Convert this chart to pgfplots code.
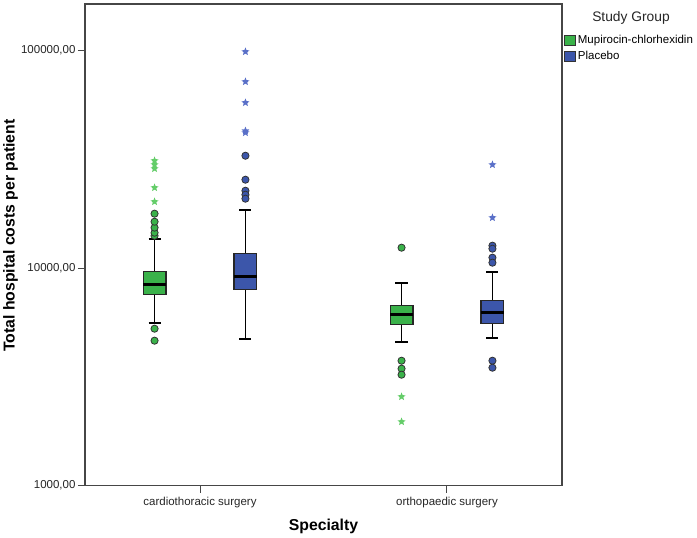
\documentclass[border=0pt]{standalone}
\usepackage{fontspec}
\setmainfont{Liberation Sans}
\usepackage{pgfplots}
\pgfplotsset{compat=1.18}
\definecolor{sgreen}{RGB}{58,178,74}
\definecolor{sblue}{RGB}{60,86,170}
\definecolor{lgreen}{RGB}{100,205,105}
\definecolor{lblue}{RGB}{90,112,200}
\definecolor{framec}{RGB}{70,70,70}
\pgfdeclareplotmark{fstar}{%
 \pgfpathmoveto{\pgfpointpolar{90}{\pgfplotmarksize}}%
 \pgfpathlineto{\pgfpointpolar{126}{0.45\pgfplotmarksize}}%
 \pgfpathlineto{\pgfpointpolar{162}{\pgfplotmarksize}}%
 \pgfpathlineto{\pgfpointpolar{198}{0.45\pgfplotmarksize}}%
 \pgfpathlineto{\pgfpointpolar{234}{\pgfplotmarksize}}%
 \pgfpathlineto{\pgfpointpolar{270}{0.45\pgfplotmarksize}}%
 \pgfpathlineto{\pgfpointpolar{306}{\pgfplotmarksize}}%
 \pgfpathlineto{\pgfpointpolar{342}{0.45\pgfplotmarksize}}%
 \pgfpathlineto{\pgfpointpolar{18}{\pgfplotmarksize}}%
 \pgfpathlineto{\pgfpointpolar{54}{0.45\pgfplotmarksize}}%
 \pgfpathclose\pgfusepathqfill}
\pgfplotsset{
  whisk/.style={black, line width=1.8pt, forget plot},
  bx/.style={fill=#1, draw=black!85, line width=1.1pt, line join=miter, forget plot},
  med/.style={black, line width=2.7pt, forget plot},
}
\begin{document}
\begin{tikzpicture}
\useasboundingbox (0,0) rectangle (697pt,538pt);
\begin{axis}[
  at={(85pt,52.3pt)}, anchor=south west,
  scale only axis, width=477pt, height=481.7pt,
  ymode=log, ymin=1000, ymax=163960,
  xmin=-0.4656, xmax=1.4656,
  axis line style={framec, line width=1.2pt},
  xtick={0,1}, xticklabels={cardiothoracic surgery, orthopaedic surgery},
  ytick={1000,10000,100000}, yticklabels={{1000,00},{10000,00},{100000,00}},
  yminorticks=false, xminorticks=false,
  xtick pos=bottom, ytick pos=left, tick align=outside,
  major tick length=7pt,
  tick style={framec, line width=1pt},
  ticklabel style={font=\fontsize{11.5}{13}\selectfont, text=black!85},
  xticklabel style={yshift=-1pt},
  yticklabel style={xshift=1pt},
  xlabel={Specialty}, ylabel={Total hospital costs per patient},
  every axis x label/.style={at={(axis description cs:0.5,-0.085)}, anchor=center,
    font=\fontsize{15.8}{18}\selectfont\bfseries},
  every axis y label/.style={at={(axis description cs:-0.156,0.519)}, anchor=center, rotate=90,
    font=\fontsize{15.8}{18}\selectfont\bfseries},
  legend style={at={(rel axis cs:1,1)}, anchor=north west, xshift=2pt, yshift=-29pt,
    draw=none, fill=none, inner sep=0pt, row sep=2.5pt,
    font=\fontsize{11.5}{12}\selectfont, cells={anchor=west},
    /tikz/every even column/.append style={column sep=1pt}},
  legend image code/.code={\draw[#1, draw=black!80, line width=0.7pt] (0pt,-5pt) rectangle (11pt,5pt);},
  clip=false,
]
\addlegendimage{fill=sgreen}
\addlegendentry{Mupirocin-chlorhexidin}
\addlegendimage{fill=sblue}
\addlegendentry{Placebo}
% ---- cardiothoracic, Mupirocin-chlorhexidin (x=-0.184)
\addplot[whisk] coordinates {(-0.184,5616) (-0.184,7553)};
\addplot[whisk] coordinates {(-0.184,9636) (-0.184,13665)};
\addplot[whisk] coordinates {(-0.2085,5616) (-0.1595,5616)};
\addplot[whisk] coordinates {(-0.2085,13665) (-0.1595,13665)};
\addplot[bx=sgreen] coordinates {(-0.2305,7553) (-0.1375,7553) (-0.1375,9636) (-0.2305,9636) (-0.2305,7553)};
\addplot[med] coordinates {(-0.2305,8400) (-0.1375,8400)};
% ---- cardiothoracic, Placebo (x=0.184)
\addplot[whisk] coordinates {(0.184,4741) (0.184,7962)};
\addplot[whisk] coordinates {(0.184,11660) (0.184,18580)};
\addplot[whisk] coordinates {(0.1595,4741) (0.2085,4741)};
\addplot[whisk] coordinates {(0.1595,18580) (0.2085,18580)};
\addplot[bx=sblue] coordinates {(0.1375,7962) (0.2305,7962) (0.2305,11660) (0.1375,11660) (0.1375,7962)};
\addplot[med] coordinates {(0.1375,9141) (0.2305,9141)};
% ---- orthopaedic, Mupirocin-chlorhexidin (x=0.816)
\addplot[whisk] coordinates {(0.816,4593) (0.816,5499)};
\addplot[whisk] coordinates {(0.816,6723) (0.816,8577)};
\addplot[whisk] coordinates {(0.7915,4593) (0.8405,4593)};
\addplot[whisk] coordinates {(0.7915,8577) (0.8405,8577)};
\addplot[bx=sgreen] coordinates {(0.7695,5499) (0.8625,5499) (0.8625,6723) (0.7695,6723) (0.7695,5499)};
\addplot[med] coordinates {(0.7695,6111) (0.8625,6111)};
% ---- orthopaedic, Placebo (x=1.184)
\addplot[whisk] coordinates {(1.184,4792) (1.184,5555)};
\addplot[whisk] coordinates {(1.184,7088) (1.184,9636)};
\addplot[whisk] coordinates {(1.1595,4792) (1.2085,4792)};
\addplot[whisk] coordinates {(1.1595,9636) (1.2085,9636)};
\addplot[bx=sblue] coordinates {(1.1375,5555) (1.2305,5555) (1.2305,7088) (1.1375,7088) (1.1375,5555)};
\addplot[med] coordinates {(1.1375,6242) (1.2305,6242)};
% circle outliers
\addplot[only marks, forget plot, mark=*, mark size=3.6pt, mark options={fill=sgreen, draw=black!80, line width=0.8pt}]
  coordinates {(-0.184,14100) (-0.184,14560) (-0.184,15360) (-0.184,16360) (-0.184,17810) (-0.184,5270) (-0.184,4642)
               (0.816,12425) (0.816,3755) (0.816,3452) (0.816,3238)};
\addplot[only marks, forget plot, mark=*, mark size=3.6pt, mark options={fill=sblue, draw=black!80, line width=0.8pt}]
  coordinates {(0.184,32890) (0.184,25520) (0.184,22710) (0.184,21770) (0.184,20870)
               (1.184,12690) (1.184,12290) (1.184,11180) (1.184,10600) (1.184,3755) (1.184,3487)};
% star outliers
\addplot[only marks, forget plot, mark=fstar, mark size=4.2pt, color=lgreen]
  coordinates {(-0.184,31210) (-0.184,29910) (-0.184,28680) (-0.184,23450) (-0.184,20220)
               (0.816,2566) (0.816,1969)};
\addplot[only marks, forget plot, mark=fstar, mark size=4.2pt, color=lblue]
  coordinates {(0.184,98950) (0.184,72030) (0.184,57680) (0.184,42800) (0.184,41980)
               (1.184,29910) (1.184,17070)};
\end{axis}
\node[font=\fontsize{13.8}{15}\selectfont, text=black!85] at (631pt,520pt) {Study Group};
\end{tikzpicture}
\end{document}
